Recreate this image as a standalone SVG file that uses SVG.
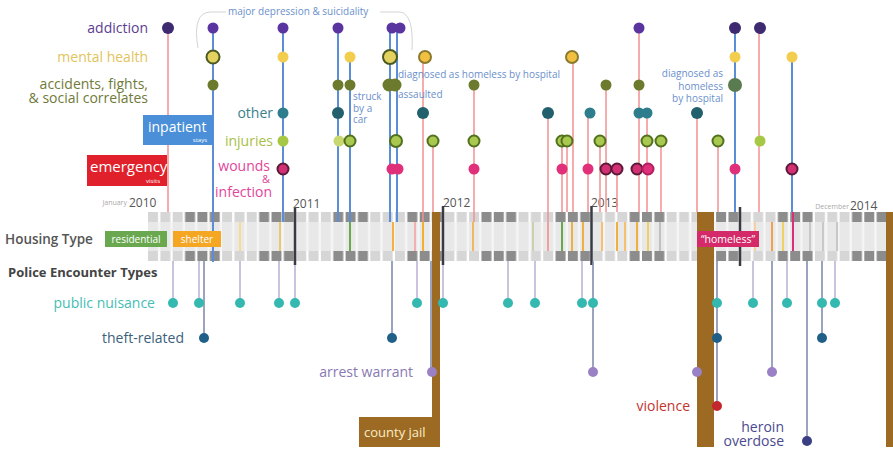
<svg xmlns="http://www.w3.org/2000/svg" width="893" height="471" viewBox="0 0 893 471">
<defs>
<style>
text{font-family:'Open Sans','Liberation Sans',sans-serif}
.lbl{font-size:14px;text-anchor:end}
.note{font-size:10px;fill:#6b8fcb}
.er{stroke:#f29090;stroke-width:1.5;fill:none}
.ip{stroke:#5a8fd8;stroke-width:2;fill:none}
.pl{stroke:#b6b0d2;stroke-width:1.5}
.pd{stroke:#7a86a8;stroke-width:1.5}
.hc{stroke-width:2;fill:none}
.yt{stroke:#3a3a44;stroke-width:2.5}
.ad{fill:#5a35a0}
.add{fill:#3d2a70}
.mh{fill:#f2cd4e}
.mhr{fill:#e4d260;stroke:#4a5a20;stroke-width:2}
.ac{fill:#6b7a2c}
.ot{fill:#2d7d8c}
.otd{fill:#22606e}
.in{fill:#a6c844}
.inr{fill:#a8c850;stroke:#52701e;stroke-width:2}
.wo{fill:#e0307a}
.wor{fill:#d23072;stroke:#5a1a3a;stroke-width:2}
.pn{fill:#34b8b0}
.th{fill:#1f5f88}
.aw{fill:#9a80c4}
.vi{fill:#c4262e}
.he{fill:#3a3f84}
.jail{fill:#9c6a22}
.yr{font-size:12px;fill:#555}
.mo{font-size:7px;fill:#aaa}
</style>
<pattern id="sq" patternUnits="userSpaceOnUse" x="148" y="212" width="74.1" height="39">
<rect x="0" y="0" width="10" height="10" fill="#d6d6d6"/>
<rect x="12.35" y="0" width="10" height="10" fill="#d6d6d6"/>
<rect x="24.7" y="0" width="10" height="10" fill="#d6d6d6"/>
<rect x="37.05" y="0" width="10" height="10" fill="#8c8c8c"/>
<rect x="49.4" y="0" width="10" height="10" fill="#8c8c8c"/>
<rect x="61.75" y="0" width="10" height="10" fill="#8c8c8c"/>
</pattern>
<pattern id="col" patternUnits="userSpaceOnUse" x="148" y="222" width="12.35" height="29">
<rect x="0" y="0" width="10" height="29" fill="#e8e8e8"/>
</pattern>
</defs>
<rect width="893" height="471" fill="#ffffff"/>

<g id="timeline">
<rect x="148" y="222" width="738.7" height="29" fill="#f5f5f5"/>
<rect x="148" y="222" width="738.7" height="29" fill="url(#col)"/>
<rect x="148" y="212" width="738.7" height="49" fill="url(#sq)"/>
<text class="mo" x="127" y="205" text-anchor="end">January</text>
<text class="yr" x="129" y="207">2010</text>
<text class="yr" x="293" y="208">2011</text>
<text class="yr" x="443" y="207">2012</text>
<text class="yr" x="591" y="207">2013</text>
<text class="mo" x="849" y="209" text-anchor="end" font-size="8">December</text>
<text class="yr" x="850" y="210">2014</text>
</g>

<g id="housing-changes">
<line class="hc" x1="240" y1="222" x2="240" y2="251" stroke="#f5dd90" stroke-width="1.5"/>
<line class="hc" x1="280" y1="222" x2="280" y2="251" stroke="#e8c870" stroke-width="1.5"/>
<line class="hc" x1="350" y1="222" x2="350" y2="251" stroke="#6aa84f" stroke-width="3"/>
<line class="hc" x1="393" y1="222" x2="393" y2="251" stroke="#f5b040" stroke-width="4"/>
<line class="hc" x1="415" y1="222" x2="415" y2="251" stroke="#f4b0b0" stroke-width="1.5"/>
<line class="hc" x1="423" y1="222" x2="423" y2="251" stroke="#f0b030"/>
<line class="hc" x1="473" y1="222" x2="473" y2="251" stroke="#f0b860" stroke-width="1.5"/>
<line class="hc" x1="533" y1="222" x2="533" y2="251" stroke="#c8d0b0" stroke-width="1.5"/>
<line class="hc" x1="548" y1="222" x2="548" y2="251" stroke="#f0a0a0" stroke-width="1.5"/>
<line class="hc" x1="562" y1="222" x2="562" y2="251" stroke="#6aa84f"/>
<line class="hc" x1="572" y1="222" x2="572" y2="251" stroke="#f0b040"/>
<line class="hc" x1="583" y1="222" x2="583" y2="251" stroke="#f0b040"/>
<line class="hc" x1="602" y1="222" x2="602" y2="251" stroke="#f5c070" stroke-width="1.5"/>
<line class="hc" x1="617" y1="222" x2="617" y2="251" stroke="#f0b040" stroke-width="1.5"/>
<line class="hc" x1="625" y1="222" x2="625" y2="251" stroke="#f5c070" stroke-width="1.5"/>
<line class="hc" x1="637" y1="222" x2="637" y2="251" stroke="#f0b040"/>
<line class="hc" x1="648" y1="222" x2="648" y2="251" stroke="#f0d060"/>
<line class="hc" x1="660" y1="222" x2="660" y2="251" stroke="#c0c0c0" stroke-width="1.5"/>
<line class="hc" x1="755" y1="222" x2="755" y2="251" stroke="#f8d0a0" stroke-width="1.5"/>
<line class="hc" x1="772" y1="222" x2="772" y2="251" stroke="#f0a050"/>
<line class="hc" x1="783" y1="222" x2="783" y2="251" stroke="#f0d060"/>
<line class="hc" x1="793" y1="212" x2="793" y2="251" stroke="#d8307a" stroke-width="2.5"/>
<line class="hc" x1="810" y1="222" x2="810" y2="251" stroke="#c8c8c8" stroke-width="1.5"/>
<line class="hc" x1="823" y1="222" x2="823" y2="251" stroke="#c8c8c8" stroke-width="1.5"/>
<line class="hc" x1="837" y1="222" x2="837" y2="251" stroke="#c8c8c8" stroke-width="1.5"/>
</g>

<g id="year-ticks">
<line class="yt" x1="295" y1="208" x2="295" y2="265"/>
<line class="yt" x1="443" y1="206" x2="443" y2="265"/>
<line class="yt" x1="591.5" y1="206" x2="591.5" y2="265"/>
<line class="yt" x1="740" y1="207" x2="740" y2="266"/>
</g>

<g id="connectors">
<path d="M198 48 Q192 13 210 12 L226 12 M380 12 L400 12 Q414 14 412 50" fill="none" stroke="#d4d4d4" stroke-width="1"/>
<line class="er" x1="168" y1="28" x2="168" y2="212"/>
<line class="ip" x1="213" y1="28" x2="213" y2="262"/>
<line class="ip" x1="283" y1="28" x2="283" y2="222"/>
<line class="ip" x1="338" y1="28" x2="338" y2="222" stroke="#4b6fa8"/>
<line class="ip" x1="350" y1="57" x2="350" y2="222" stroke-width="4"/>
<line class="ip" x1="390" y1="28" x2="390" y2="222"/>
<line class="ip" x1="397" y1="28" x2="397" y2="222" stroke="#8ab4e8"/>
<line class="er" x1="423" y1="57" x2="423" y2="113" stroke="#f6b8b8"/>
<line class="er" x1="423" y1="113" x2="423" y2="222" stroke="#e86b6b" stroke-width="2.5"/>
<line class="er" x1="433" y1="141" x2="433" y2="212"/>
<line class="er" x1="474" y1="85" x2="474" y2="222" stroke="#f6b8b8"/>
<line class="er" x1="548" y1="113" x2="548" y2="222"/>
<line class="er" x1="562" y1="141" x2="562" y2="212"/>
<line class="er" x1="567" y1="141" x2="567" y2="212"/>
<line class="er" x1="573" y1="57" x2="573" y2="212"/>
<line class="er" x1="588" y1="113" x2="588" y2="212"/>
<line class="er" x1="600" y1="141" x2="600" y2="212"/>
<line class="er" x1="606" y1="85" x2="606" y2="212"/>
<line class="er" x1="617" y1="169" x2="617" y2="212"/>
<line class="er" x1="639" y1="28" x2="639" y2="212"/>
<line class="er" x1="647" y1="113" x2="647" y2="212"/>
<line class="er" x1="661" y1="141" x2="661" y2="212"/>
<line class="er" x1="697" y1="113" x2="697" y2="212"/>
<line class="er" x1="718" y1="141" x2="718" y2="212"/>
<line class="ip" x1="735" y1="28" x2="735" y2="212" stroke="#4a6fa8"/>
<line class="er" x1="759" y1="28" x2="759" y2="212"/>
<line class="ip" x1="792" y1="57" x2="792" y2="212" stroke="#5a7fb8"/>

<line class="pl" x1="173" y1="261" x2="173" y2="303"/>
<line class="pl" x1="199" y1="261" x2="199" y2="303"/>
<line class="pd" x1="204" y1="261" x2="204" y2="338"/>
<line class="pl" x1="240" y1="261" x2="240" y2="303"/>
<line class="pl" x1="279" y1="261" x2="279" y2="303"/>
<line class="pl" x1="295" y1="265" x2="295" y2="303"/>
<line class="pd" x1="392" y1="261" x2="392" y2="338"/>
<line class="pl" x1="417" y1="261" x2="417" y2="303"/>
<line class="pd" x1="431" y1="261" x2="431" y2="372" stroke="#9a80c4"/>
<line class="pl" x1="443" y1="265" x2="443" y2="303"/>
<line class="pl" x1="508" y1="261" x2="508" y2="303"/>
<line class="pl" x1="535" y1="261" x2="535" y2="303"/>
<line class="pl" x1="582" y1="261" x2="582" y2="303"/>
<line class="pd" x1="593" y1="261" x2="593" y2="372"/>
<line class="pd" x1="717" y1="261" x2="717" y2="406"/>
<line class="pl" x1="753" y1="261" x2="753" y2="303"/>
<line class="pd" x1="772" y1="261" x2="772" y2="372"/>
<line class="pl" x1="787" y1="261" x2="787" y2="303"/>
<line class="pd" x1="807" y1="261" x2="807" y2="441"/>
<line class="pd" x1="822" y1="261" x2="822" y2="338"/>
<line class="pl" x1="835" y1="261" x2="835" y2="303"/>
</g>

<g id="county-jail">
<rect class="jail" x="432" y="212" width="8" height="235"/>
<rect class="jail" x="359" y="417" width="81" height="30"/>
<text x="364" y="437" font-size="13" fill="#fbecc8">county jail</text>
</g>
<g id="jail-2"><rect class="jail" x="697" y="212" width="17" height="235"/></g>
<g id="jail-3"><rect class="jail" x="886" y="212" width="7" height="235"/></g>

<g id="homeless">
<rect x="697" y="231" width="62" height="16" fill="#d42a6a"/>
<text x="728" y="243" font-size="10.5" fill="#ffffff" text-anchor="middle">“homeless”</text>
</g>

<g id="housing-type">
<text x="5" y="244" font-size="13.5" font-weight="600" fill="#555">Housing Type</text>
<rect x="105" y="231" width="62" height="16" fill="#6aa84f"/>
<text x="136" y="243" font-size="10" fill="#ffffff" text-anchor="middle">residential</text>
<rect x="173" y="231" width="48" height="16" fill="#f5a623"/>
<text x="197" y="243" font-size="10" fill="#ffffff" text-anchor="middle">shelter</text>
</g>

<g id="police-title"><text x="8" y="277" font-size="13" font-weight="700" fill="#444">Police Encounter Types</text></g>

<g id="inpatient">
<rect x="143" y="115" width="70" height="30" fill="#4a8fd8"/>
<text x="148" y="132" font-size="14" fill="#ffffff">inpatient</text>
<text x="207" y="142" font-size="6" fill="#ffffff" text-anchor="end">stays</text>
</g>
<g id="emergency">
<rect x="87" y="155" width="80" height="31" fill="#e0202a"/>
<text x="90" y="172" font-size="15" fill="#ffffff">emergency</text>
<text x="160" y="183" font-size="6" fill="#ffffff" text-anchor="end">visits</text>
</g>

<g id="notes">
<text class="note" x="228" y="15">major depression &amp; suicidality</text>
<text class="note"><tspan x="353" y="100">struck</tspan><tspan x="353" y="112">by a</tspan><tspan x="353" y="123">car</tspan></text>
<text class="note" x="398" y="78">diagnosed as homeless by hospital</text>
<text class="note" x="398" y="98">assaulted</text>
<text class="note" text-anchor="end"><tspan x="723" y="77">diagnosed as</tspan><tspan x="723" y="90">homeless</tspan><tspan x="723" y="102">by hospital</tspan></text>
</g>

<g id="row-addiction">
<text class="lbl" x="148" y="33" fill="#5c3d8f">addiction</text>
<circle class="add" cx="168" cy="28" r="6"/>
<circle class="ad" cx="213" cy="28" r="5.5"/>
<circle class="ad" cx="283" cy="28" r="5.5"/>
<circle class="ad" cx="338" cy="28" r="5.5"/>
<circle class="ad" cx="392" cy="28" r="5.5"/>
<circle class="ad" cx="400" cy="28" r="5.5"/>
<circle class="ad" cx="639" cy="28" r="5.5"/>
<circle class="add" cx="735" cy="28" r="6"/>
<circle class="add" cx="760" cy="28" r="6"/>
</g>

<g id="row-mental-health">
<text class="lbl" x="148" y="62" fill="#e2c45c">mental health</text>
<circle class="mhr" cx="213" cy="57" r="6.5"/>
<circle class="mh" cx="283" cy="57" r="5.5"/>
<circle class="mh" cx="350" cy="57" r="5.5"/>
<circle class="mhr" cx="390" cy="57" r="7"/>
<circle class="mhr" cx="425" cy="57" r="6" style="fill:#f2c040;stroke:#8a7a30"/>
<circle class="mhr" cx="572" cy="57" r="6" style="fill:#f2c040;stroke:#8a7a30"/>
<circle class="mh" cx="735" cy="57" r="5.5"/>
<circle class="mh" cx="792" cy="57" r="5.5"/>
</g>

<g id="row-accidents">
<text class="lbl" fill="#707a3a"><tspan x="148" y="89">accidents, fights,</tspan><tspan x="148" y="103">&amp; social correlates</tspan></text>
<circle class="ac" cx="213" cy="85" r="5.5"/>
<circle class="ac" cx="338" cy="85" r="5.5"/>
<circle class="ac" cx="350" cy="85" r="5.5"/>
<circle class="ac" cx="389" cy="85" r="6.5"/>
<circle class="ac" cx="395" cy="85" r="6.5"/>
<circle class="ac" cx="474" cy="85" r="5.5"/>
<circle class="ac" cx="606" cy="85" r="5.5"/>
<circle class="ac" cx="639" cy="85" r="5.5"/>
<circle class="ac" cx="735" cy="85" r="7" style="fill:#5a7a50"/>
</g>

<g id="row-other">
<text class="lbl" x="273" y="118" fill="#3a7f8a">other</text>
<circle class="ot" cx="283" cy="113" r="5.5"/>
<circle class="otd" cx="338" cy="113" r="6"/>
<circle class="otd" cx="423" cy="113" r="6"/>
<circle class="otd" cx="548" cy="113" r="6"/>
<circle class="ot" cx="590" cy="113" r="5.5"/>
<circle class="ot" cx="639" cy="113" r="5.5"/>
<circle class="ot" cx="647" cy="113" r="5.5"/>
<circle class="otd" cx="697" cy="113" r="6"/>
</g>

<g id="row-injuries">
<text class="lbl" x="273" y="146" fill="#a8c048">injuries</text>
<circle class="in" cx="283" cy="141" r="5.5"/>
<circle class="in" cx="339" cy="141" r="5.5" style="fill:#c8d870"/>
<circle class="inr" cx="350" cy="141" r="5.5"/>
<circle class="inr" cx="396" cy="141" r="6"/>
<circle class="inr" cx="433" cy="141" r="5.5"/>
<circle class="inr" cx="474" cy="141" r="5.5"/>
<circle class="inr" cx="562" cy="141" r="5.5"/>
<circle class="inr" cx="567" cy="141" r="5.5"/>
<circle class="inr" cx="600" cy="141" r="5.5"/>
<circle class="inr" cx="647" cy="141" r="5.5"/>
<circle class="inr" cx="661" cy="141" r="5.5"/>
<circle class="inr" cx="718" cy="141" r="5.5"/>
<circle class="in" cx="760" cy="141" r="5.5"/>
</g>

<g id="row-wounds">
<text class="lbl" font-size="13" fill="#e2459a"><tspan x="270" y="171">wounds</tspan><tspan x="270" y="183" font-size="11">&amp;</tspan><tspan x="272" y="197">infection</tspan></text>
<circle class="wor" cx="283" cy="169" r="5.5"/>
<circle class="wo" cx="392" cy="169" r="5.5"/>
<circle class="wo" cx="398" cy="169" r="5.5"/>
<circle class="wo" cx="474" cy="169" r="5.5"/>
<circle class="wo" cx="562" cy="169" r="5.5"/>
<circle class="wo" cx="588" cy="169" r="5.5"/>
<circle class="wor" cx="606" cy="169" r="5.5"/>
<circle class="wor" cx="617" cy="169" r="5.5"/>
<circle class="wor" cx="637" cy="169" r="5.5"/>
<circle class="wor" cx="648" cy="169" r="5.5" style="fill:#e0307a;stroke:#b02060"/>
<circle class="wo" cx="735" cy="169" r="5.5"/>
<circle class="wor" cx="792" cy="169" r="5.5"/>
</g>

<g id="row-public-nuisance">
<text class="lbl" x="155" y="308" font-size="13" fill="#46bdb5">public nuisance</text>
<circle class="pn" cx="173" cy="303" r="5"/>
<circle class="pn" cx="199" cy="303" r="5"/>
<circle class="pn" cx="240" cy="303" r="5"/>
<circle class="pn" cx="279" cy="303" r="5"/>
<circle class="pn" cx="295" cy="303" r="5"/>
<circle class="pn" cx="417" cy="303" r="5"/>
<circle class="pn" cx="443" cy="303" r="5"/>
<circle class="pn" cx="508" cy="303" r="5"/>
<circle class="pn" cx="535" cy="303" r="5"/>
<circle class="pn" cx="582" cy="303" r="5"/>
<circle class="pn" cx="593" cy="303" r="5"/>
<circle class="pn" cx="717" cy="303" r="5"/>
<circle class="pn" cx="753" cy="303" r="5"/>
<circle class="pn" cx="787" cy="303" r="5"/>
<circle class="pn" cx="822" cy="303" r="5"/>
<circle class="pn" cx="835" cy="303" r="5"/>
</g>

<g id="row-theft">
<text class="lbl" x="184" y="343" font-size="13" fill="#3c5f7c">theft-related</text>
<circle class="th" cx="204" cy="338" r="5"/>
<circle class="th" cx="392" cy="338" r="5"/>
<circle class="th" cx="717" cy="338" r="5"/>
<circle class="th" cx="822" cy="338" r="5"/>
</g>

<g id="row-arrest">
<text class="lbl" x="413" y="377" font-size="13" fill="#8a78b2">arrest warrant</text>
<circle class="aw" cx="432" cy="372" r="5"/>
<circle class="aw" cx="593" cy="372" r="5"/>
<circle class="aw" cx="697" cy="372" r="5"/>
<circle class="aw" cx="772" cy="372" r="5"/>
</g>

<g id="row-violence">
<text class="lbl" x="690" y="411" font-size="13" fill="#c2352e">violence</text>
<circle class="vi" cx="717" cy="406" r="5"/>
</g>

<g id="row-heroin">
<text class="lbl" font-size="12" fill="#4a4a90"><tspan x="784" y="432">heroin</tspan><tspan x="784" y="446">overdose</tspan></text>
<circle class="he" cx="807" cy="441" r="5"/>
</g>
</svg>
